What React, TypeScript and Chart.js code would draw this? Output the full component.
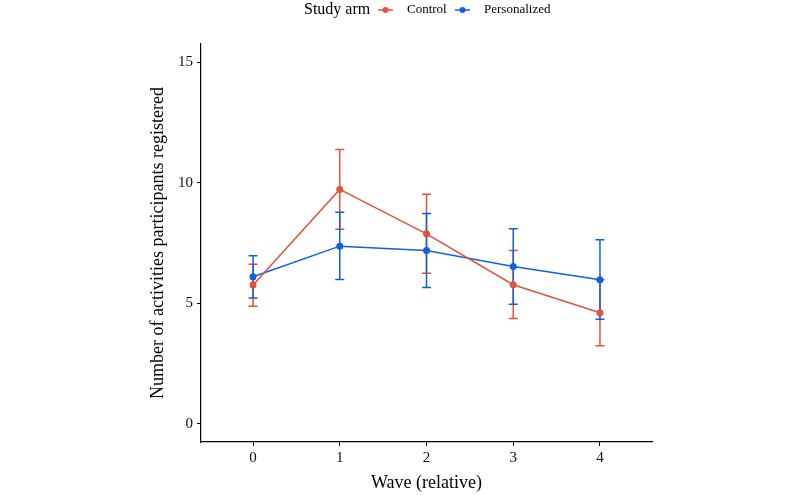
import React, { useEffect, useRef } from "react";
import { Chart, registerables } from "chart.js";

Chart.register(...registerables);

const waves = [0, 1, 2, 3, 4];
const controlMean = [5.76, 9.72, 7.88, 5.77, 4.61];
const controlLow = [4.88, 8.07, 6.25, 4.37, 3.24];
const controlHigh = [6.62, 11.38, 9.52, 7.19, 5.98];
const persMean = [6.1, 7.37, 7.19, 6.53, 5.98];
const persLow = [5.22, 5.99, 5.66, 4.96, 4.34];
const persHigh = [6.97, 8.77, 8.72, 8.09, 7.63];
const yTicks = [0, 5, 10, 15];
const seriesNames = ["Control", "Personalized"];
const legendTitle = "Study arm";

const RED = "#E0533D";
const BLUE = "#1260E2";
const FONT = "'Liberation Serif', 'Times New Roman', serif";

const errorBarPlugin = {
  id: "errorBars",
  beforeDatasetsDraw(chart: any) {
    const { ctx } = chart;
    const x = chart.scales.x;
    const y = chart.scales.y;
    chart.data.datasets.forEach((ds: any) => {
      ctx.save();
      ctx.strokeStyle = ds.borderColor;
      ctx.lineWidth = 1.5;
      ds.data.forEach((pt: any, j: number) => {
        const px = x.getPixelForValue(pt.x);
        const yl = y.getPixelForValue(ds.errLow[j]);
        const yh = y.getPixelForValue(ds.errHigh[j]);
        ctx.beginPath();
        ctx.moveTo(px, yl);
        ctx.lineTo(px, yh);
        ctx.moveTo(px - 4.5, yl);
        ctx.lineTo(px + 4.5, yl);
        ctx.moveTo(px - 4.5, yh);
        ctx.lineTo(px + 4.5, yh);
        ctx.stroke();
      });
      ctx.restore();
    });
  },
};

const legendPlugin = {
  id: "customLegend",
  afterDraw(chart: any) {
    const { ctx } = chart;
    ctx.save();
    ctx.textBaseline = "middle";
    ctx.textAlign = "left";
    const cy = 10;
    ctx.fillStyle = "#000";
    ctx.font = `16px ${FONT}`;
    ctx.fillText(legendTitle, 304, cy);
    const items = [
      { name: seriesNames[0], color: RED, x: 378 },
      { name: seriesNames[1], color: BLUE, x: 455 },
    ];
    items.forEach((it) => {
      ctx.strokeStyle = it.color;
      ctx.lineWidth = 1.5;
      ctx.beginPath();
      ctx.moveTo(it.x, cy);
      ctx.lineTo(it.x + 15, cy);
      ctx.stroke();
      ctx.fillStyle = it.color;
      ctx.beginPath();
      ctx.arc(it.x + 7.5, cy, 3, 0, Math.PI * 2);
      ctx.fill();
      ctx.fillStyle = "#000";
      ctx.font = `13px ${FONT}`;
      ctx.fillText(it.name, it.x + 29, cy);
    });
    ctx.restore();
  },
};

export default function App() {
  const ref = useRef<HTMLCanvasElement>(null);
  useEffect(() => {
    if (!ref.current) return;
    const mk = (vals: number[]) => waves.map((w, i) => ({ x: w, y: vals[i] }));
    const chart = new Chart(ref.current, {
      type: "line",
      data: {
        datasets: [
          {
            label: seriesNames[0],
            data: mk(controlMean),
            borderColor: RED,
            backgroundColor: RED,
            borderWidth: 1.5,
            pointRadius: 3.5,
            pointBorderWidth: 0,
            errLow: controlLow,
            errHigh: controlHigh,
          } as any,
          {
            label: seriesNames[1],
            data: mk(persMean),
            borderColor: BLUE,
            backgroundColor: BLUE,
            borderWidth: 1.5,
            pointRadius: 3.5,
            pointBorderWidth: 0,
            errLow: persLow,
            errHigh: persHigh,
          } as any,
        ],
      },
      options: {
        animation: false,
        responsive: false,
        maintainAspectRatio: false,
        layout: { padding: { left: 147, right: 148, top: 44, bottom: 1 } },
        plugins: {
          legend: { display: false },
          tooltip: { enabled: false },
        },
        scales: {
          x: {
            type: "linear",
            min: -0.6,
            max: 4.6,
            afterBuildTicks: (s: any) => {
              s.ticks = waves.map((v) => ({ value: v }));
            },
            afterFit: (s: any) => {
              s.height = 52;
            },
            grid: { drawOnChartArea: false, drawTicks: true, tickLength: 4, color: "#000" },
            border: { display: true, color: "#000", width: 1.2 },
            ticks: { color: "#111", padding: 3, font: { family: FONT, size: 15 }, callback: (v: any) => String(v) },
            title: { display: true, text: "Wave (relative)", color: "#000", font: { family: FONT, size: 18 }, padding: 0 },
          },
          y: {
            type: "linear",
            min: -0.75,
            max: 15.75,
            afterBuildTicks: (s: any) => {
              s.ticks = yTicks.map((v) => ({ value: v }));
            },
            afterFit: (s: any) => {
              s.width = 54;
            },
            grid: { drawOnChartArea: false, drawTicks: true, tickLength: 4, color: "#000" },
            border: { display: true, color: "#000", width: 1.2 },
            ticks: { color: "#111", padding: 4, font: { family: FONT, size: 15 }, callback: (v: any) => String(v) },
            title: {
              display: true,
              text: "Number of activities participants registered",
              color: "#000",
              font: { family: FONT, size: 18 },
              padding: 0,
            },
          },
        },
      },
      plugins: [errorBarPlugin, legendPlugin],
    });
    return () => chart.destroy();
  }, []);
  return (
    <div style={{ position: "absolute", left: 0, top: 0, width: 800, height: 495, background: "#fff" }}>
      <canvas ref={ref} width={800} height={495} />
    </div>
  );
}
